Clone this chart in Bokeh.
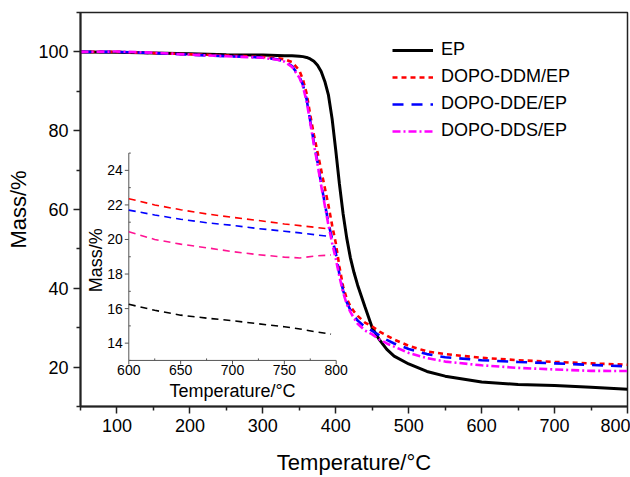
import math
from bokeh.plotting import figure
from bokeh.models import Range1d, FixedTicker
from bokeh.core.properties import value
from bokeh.embed import file_html
from bokeh.resources import INLINE

FONT = "Liberation Sans"

# ---------------- data ----------------
TEMP = [50, 100, 150, 200, 250, 300, 320, 330, 340, 350, 355, 360, 365, 370, 375,
        380, 385, 390, 395, 400, 405, 410, 415, 420, 425, 430, 440, 450, 460, 470, 480,
        500, 525, 550, 600, 650, 700, 750, 800]

EP = [100.0, 99.9, 99.7, 99.5, 99.3, 99.2, 99.1, 99.05, 99.0, 98.9, 98.8, 98.6, 98.2,
      97.6, 96.6, 95.0, 92.5, 89.0, 83.0, 75.0, 66.5, 59.0, 52.8, 47.8, 44.0, 40.8, 35.3,
      30.0, 26.9, 24.5, 22.8, 20.8, 18.9, 17.7, 16.2, 15.6, 15.3, 14.9, 14.4]

DDM = [100.0, 100.0, 99.7, 99.4, 99.1, 98.7, 98.4, 98.1, 97.4, 95.3, 93.0, 89.5, 84.0,
       79.0, 74.5, 70.0, 65.5, 61.0, 56.0, 51.5, 45.5, 40.5, 37.4, 35.5, 34.1, 33.0, 31.3,
       30.3, 29.0, 28.0, 27.0, 25.4, 24.0, 23.3, 22.35, 21.75, 21.3, 20.95, 20.6]

DDE = [100.0, 100.0, 99.7, 99.3, 98.9, 98.6, 98.1, 97.6, 96.4, 93.8, 91.6, 88.0, 82.5,
       77.0, 72.0, 66.5, 61.5, 56.5, 52.5, 49.0, 43.5, 39.5, 36.5, 34.5, 33.0, 31.8, 30.2,
       29.2, 28.0, 26.9, 26.0, 24.6, 23.3, 22.5, 21.75, 21.3, 20.95, 20.55, 20.2]

DDS = [100.0, 100.1, 99.8, 99.3, 98.9, 98.5, 98.0, 97.5, 96.2, 93.5, 91.2, 87.5, 82.0,
       76.5, 71.5, 66.0, 61.0, 56.0, 51.5, 47.5, 43.0, 39.0, 36.0, 34.0, 32.4, 31.0, 29.3,
       28.3, 27.0, 26.0, 25.2, 23.6, 22.3, 21.4, 20.45, 19.8, 19.4, 19.05, 19.0]

INSET_TEMP = [600, 625, 650, 675, 700, 725, 750, 765, 780, 795]
INSET_DDM = [22.36, 22.0, 21.72, 21.48, 21.28, 21.1, 20.9, 20.8, 20.7, 20.6]
INSET_DDE = [21.7, 21.42, 21.17, 20.97, 20.82, 20.63, 20.48, 20.38, 20.27, 20.17]
INSET_DDS = [20.45, 20.0, 19.73, 19.52, 19.3, 19.12, 18.98, 18.93, 19.05, 19.1]
INSET_EP = [16.25, 15.9, 15.62, 15.45, 15.3, 15.12, 14.95, 14.82, 14.66, 14.52]

X_TICKS = [100, 200, 300, 400, 500, 600, 700, 800]
X_MINOR = [50, 150, 250, 350, 450, 550, 650, 750]
Y_TICKS = [20, 40, 60, 80, 100]
Y_MINOR = [10, 30, 50, 70, 90, 110]

IN_X_TICKS = [600, 650, 700, 750, 800]
IN_X_MINOR = [625, 675, 725, 775]
IN_Y_TICKS = [14, 16, 18, 20, 22, 24]
IN_Y_MINOR = [13, 15, 17, 19, 21, 23, 25]

# ---------------- layout constants ----------------
FR_L, FR_R, FR_T, FR_B = 80, 627, 12, 408          # main frame in px
IN_L, IN_R, IN_T, IN_B = 128.3, 335.7, 153.3, 361.7  # inset frame in px
IX0, IX1, IY0, IY1 = 600, 800, 13, 25              # inset data window

p = figure(width=630, height=477, x_range=Range1d(50, 800), y_range=Range1d(10, 110),
           output_backend="svg", toolbar_location=None, title=None,
           min_border_left=FR_L, min_border_right=630 - FR_R,
           min_border_top=FR_T, min_border_bottom=477 - FR_B)
p.background_fill_color = "white"
p.border_fill_color = "white"
p.outline_line_color = "#222222"
p.outline_line_width = 1.5
p.xgrid.visible = False
p.ygrid.visible = False

p.xaxis.ticker = FixedTicker(ticks=X_TICKS, minor_ticks=X_MINOR)
p.yaxis.ticker = FixedTicker(ticks=Y_TICKS, minor_ticks=Y_MINOR)
p.xaxis.axis_label = "Temperature/°C"
p.yaxis.axis_label = "Mass/%"
for ax in (p.xaxis, p.yaxis):
    ax.axis_line_width = 2
    ax.axis_line_color = "#222222"
    ax.major_tick_in = 0
    ax.major_tick_out = 7
    ax.minor_tick_in = 0
    ax.minor_tick_out = 4
    ax.major_tick_line_width = 1.5
    ax.minor_tick_line_width = 1.5
    ax.major_tick_line_color = "#222222"
    ax.minor_tick_line_color = "#222222"
    ax.major_label_text_font = FONT
    ax.major_label_text_font_size = "18px"
    ax.major_label_text_color = "black"
    ax.major_label_standoff = 5
    ax.axis_label_text_font = FONT
    ax.axis_label_text_font_size = "22px"
    ax.axis_label_text_font_style = "normal"
    ax.axis_label_text_color = "black"
p.yaxis.axis_label_standoff = 4
p.xaxis.axis_label_standoff = 15

# ---------------- main curves ----------------
p.line(TEMP, EP, line_color="black", line_width=3, legend_label="EP")
p.line(TEMP, DDM, line_color="#ff0000", line_width=2.6, line_dash="5 4",
       legend_label="DOPO-DDM/EP")
p.line(TEMP, DDE, line_color="#0000ff", line_width=2.6, line_dash="11 8",
       legend_label="DOPO-DDE/EP")
p.line(TEMP, DDS, line_color="#ff00ff", line_width=2.6, line_dash="8 3 2 3",
       legend_label="DOPO-DDS/EP")

lg = p.legend[0]
lg.location = (312, 265)
lg.border_line_color = None
lg.background_fill_alpha = 0
lg.padding = 0
lg.margin = 0
lg.spacing = 6
lg.glyph_height = 20
lg.label_height = 20
lg.glyph_width = 41
lg.label_standoff = 8
lg.label_text_font = FONT
lg.label_text_font_size = "18px"
lg.label_text_color = "black"

# ---------------- inset (extra ranges mapped onto the inset box) ----------------
ux = (IX1 - IX0) / (IN_R - IN_L)
uy = (IY1 - IY0) / (IN_B - IN_T)
p.extra_x_ranges = {"ix": Range1d(IX0 - (IN_L - FR_L) * ux, IX1 + (FR_R - IN_R) * ux)}
p.extra_y_ranges = {"iy": Range1d(IY0 - (FR_B - IN_B) * uy, IY1 + (IN_T - FR_T) * uy)}
kw = dict(x_range_name="ix", y_range_name="iy")

AX_COL = "#555555"
p.segment(x0=[IX0, IX0], y0=[IY0, IY0], x1=[IX0, IX1], y1=[IY1, IY0],
          line_color=AX_COL, line_width=1, **kw)
p.ray(x=[IX0] * len(IN_Y_TICKS), y=IN_Y_TICKS, length=4, length_units="screen",
      angle=math.pi, line_color=AX_COL, line_width=1, **kw)
p.ray(x=[IX0] * len(IN_Y_MINOR), y=IN_Y_MINOR, length=2, length_units="screen",
      angle=0, line_color=AX_COL, line_width=1, **kw)
p.ray(x=IN_X_TICKS, y=[IY0] * len(IN_X_TICKS), length=4, length_units="screen",
      angle=-math.pi / 2, line_color=AX_COL, line_width=1, **kw)
p.ray(x=IN_X_MINOR, y=[IY0] * len(IN_X_MINOR), length=2, length_units="screen",
      angle=math.pi / 2, line_color=AX_COL, line_width=1, **kw)

p.text(x=[IX0] * len(IN_Y_TICKS), y=IN_Y_TICKS, text=[str(v) for v in IN_Y_TICKS],
       x_offset=-6, text_align="right", text_baseline="middle",
       text_font=value(FONT), text_font_size="14px", text_color="black", **kw)
p.text(x=IN_X_TICKS, y=[IY0] * len(IN_X_TICKS), text=[str(v) for v in IN_X_TICKS],
       y_offset=5, text_align="center", text_baseline="top",
       text_font=value(FONT), text_font_size="14px", text_color="black", **kw)
p.text(x=[(IX0 + IX1) / 2], y=[IY0], text=["Temperature/°C"], y_offset=31,
       text_align="center", text_baseline="middle",
       text_font=value(FONT), text_font_size="18px", text_color="black", **kw)
p.text(x=[IX0], y=[18.8], text=["Mass/%"], x_offset=-33, angle=math.pi / 2,
       text_align="center", text_baseline="middle",
       text_font=value(FONT), text_font_size="18px", text_color="black", **kw)

p.line(INSET_TEMP, INSET_DDM, line_color="#ff0000", line_width=1.6, line_dash="7 5", **kw)
p.line(INSET_TEMP, INSET_DDE, line_color="#0000ff", line_width=1.6, line_dash="7 5", **kw)
p.line(INSET_TEMP, INSET_DDS, line_color="#ff1493", line_width=1.6, line_dash="7 5", **kw)
p.line(INSET_TEMP, INSET_EP, line_color="black", line_width=1.6, line_dash="7 5", **kw)

open("out.html", "w").write(file_html(p, INLINE))
